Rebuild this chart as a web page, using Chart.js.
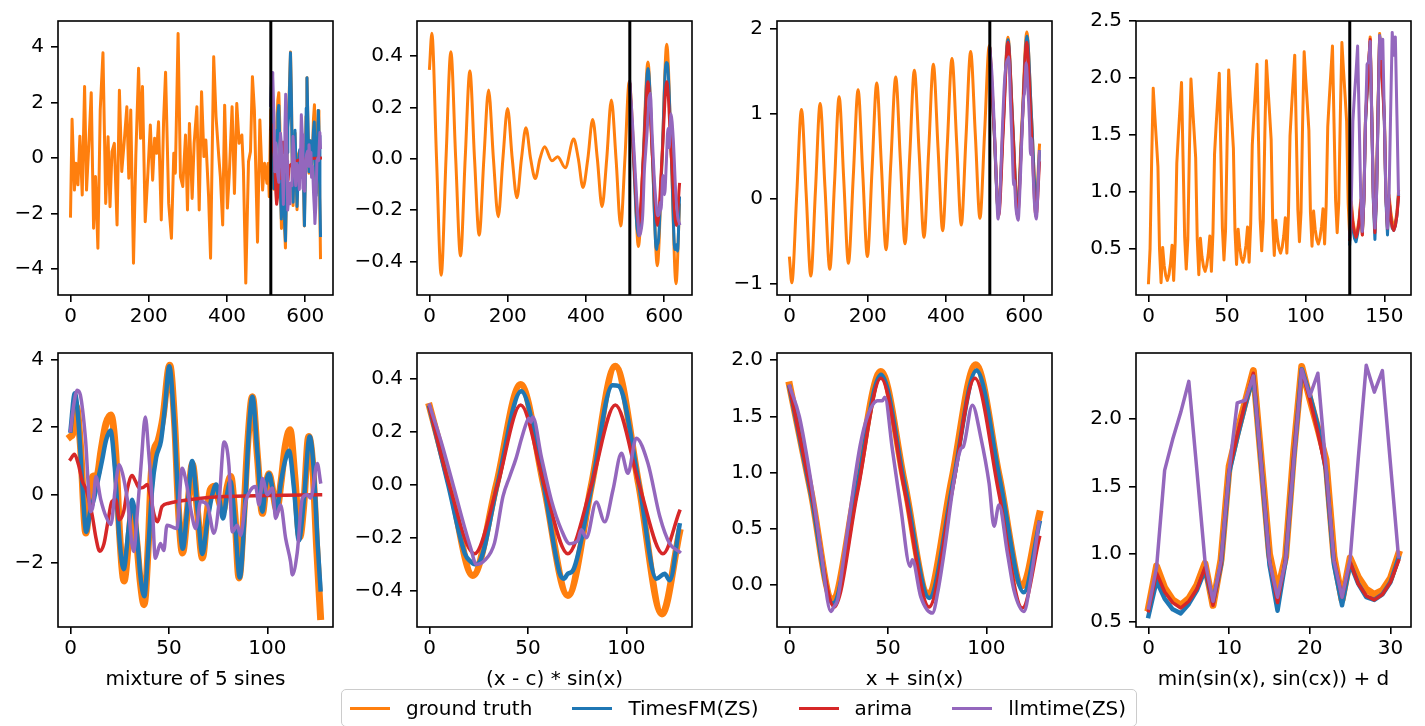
<!DOCTYPE html>
<html>
<head>
<meta charset="utf-8">
<script src="https://cdn.jsdelivr.net/npm/chart.js@4.4.1/dist/chart.umd.min.js"></script>
<style>
  body { margin: 0; background: #fff; width: 1425px; height: 726px; overflow: hidden; position: relative; font-family: 'DejaVu Sans', sans-serif; }
  canvas { position: absolute; }
  #legend { position: absolute; left: 341px; top: 689px; width: 796px; height: 38px; box-sizing: border-box;
    border: 1.6px solid #cccccc; border-radius: 5px; background: rgba(255,255,255,0.8);
    display: flex; align-items: center; padding-left: 8px; font: 20px 'DejaVu Sans', sans-serif; color: #000;
    white-space: nowrap; z-index: 5; }
  .item { display: flex; align-items: center; margin-right: 40px; }
  .item:last-child { margin-right: 0; }
  .swatch { width: 40px; height: 3px; margin-right: 16px; }
</style>
</head>
<body>
<div id="legend"></div>
<script>
// ---------- mixture of 5 sines ----------
const mixHist = [[0,-2.1],[4,1.4],[10,-1.16],[14,-0.19],[19,-0.97],[24,0.79],[30,-1.34],[36,2.58],[41,-1.16],[47,0.53],[53,2.36],[59,-2.54],[64,-0.67],[70,-3.26],[76,1.73],[83,3.8],[90,-1.64],[96,0.77],[101,-1.76],[106,0.23],[112,0.53],[119,-2.42],[125,2.45],[131,-0.49],[137,0.53],[144,1.85],[149,-0.73],[154,1.73],[161,-3.8],[167,0.1],[174,3.24],[179,0.71],[184,2.58],[191,-2.3],[198,-0.49],[204,1.19],[210,-0.8],[215,0.71],[220,0.17],[225,1.31],[232,-2.24],[238,1.37],[243,3.1],[251,-1.64],[258,-2.9],[264,0.17],[268,-0.55],[275,4.5],[281,-0.67],[287,-1.03],[294,0.83],[299,-1.88],[304,1.25],[311,-1.46],[316,0.53],[323,1.85],[329,-1.88],[335,2.39],[341,0.05],[346,0.65],[353,-1.4],[358,-3.62],[366,3.66],[372,1.49],[379,0.05],[383,-0.67],[389,-2.42],[394,1.91],[401,-1.81],[406,-0.55],[413,1.85],[419,-1.28],[425,1.97],[431,0.53],[438,0.83],[442,-0.43],[448,-4.52],[455,-0.13],[460,0.23],[465,2.94],[470,1.73],[478,-3.04],[484,1.37],[491,-1.16],[496,-0.19],[502,-0.91],[505,-0.2],[508,-1.4]];
const mixTruth = [[0,1.72],[1,1.78],[3,2.6],[5,1.5],[7.8,-1.13],[9.5,-0.3],[11.2,0.54],[13.5,0.58],[15.5,1.3],[18,2.1],[20.5,2.36],[23,1.2],[25,-1.2],[27.2,-2.55],[29.5,-1.4],[31.5,-0.35],[33.5,-1.3],[35.5,-2.6],[37.4,-3.25],[39.5,-1.5],[41,0.6],[42.5,1.33],[44.5,1.6],[47,2.3],[50.4,3.83],[53,2.0],[55,-0.6],[56.9,-1.72],[59.5,-0.4],[61.9,0.9],[64.5,-0.5],[67,-1.87],[69.5,-0.5],[71,0.15],[73.5,0.25],[75.5,-0.2],[77.5,-0.5],[79.5,0.2],[81.4,0.54],[83.5,-0.6],[85.6,-2.46],[88,-0.6],[90,1.5],[92.4,2.9],[95,1.1],[97.5,-0.55],[99.2,0.2],[100.8,0.62],[102.8,0.1],[104.8,-0.45],[107,0.4],[109,1.4],[111.5,1.92],[114,0.5],[116.5,-1.25],[118.5,-0.3],[121,1.72],[123,0.9],[125,-1.5],[127,-3.6]];
const mixTimesfm = [[0,1.9],[2.2,3.0],[4,2.2],[6,0.3],[8,-1.1],[10,-0.5],[12,-0.1],[13.5,0.3],[16,1.0],[18,1.6],[20.3,1.9],[22.5,0.8],[25,-1.4],[27,-2.2],[29.5,-1.0],[31.3,-0.15],[33.5,-1.0],[35.5,-2.4],[37.5,-3.0],[39.5,-1.6],[41.5,0.2],[43.5,1.1],[46,1.6],[48,2.6],[50.2,3.8],[52.5,2.3],[55,-0.4],[57,-1.6],[59.5,-0.3],[61.8,1.0],[64.5,-0.4],[67,-1.75],[69.5,-0.8],[72,0.0],[74,0.3],[75.5,-0.1],[77.5,-0.7],[79.5,0.0],[81.2,0.4],[83.5,-0.8],[86,-2.45],[88.5,-0.5],[90.5,1.8],[92.4,2.9],[95,1.2],[97.5,-0.5],[99,0.2],[100.8,0.62],[102.8,0.1],[104.5,-0.5],[107,0.4],[109,1.0],[111,1.3],[113.5,0.2],[116,-1.35],[118.5,-0.2],[121.5,1.72],[123.5,0.8],[125.5,-1.4],[127,-2.8]];
const mixArima = [[0,1.05],[2,1.2],[4,0.9],[6,0.4],[8,0.15],[11,-0.6],[13,-1.3],[14.8,-1.67],[17,-1.45],[19,-0.8],[21,-0.2],[23,-0.15],[24.8,-0.74],[27,-0.5],[29,0.2],[31.3,0.57],[33,0.4],[35,0.2],[37,0.22],[39,0.3],[40.5,0.0],[42.5,-0.6],[44.2,-0.8],[46.5,-0.35],[50,-0.25],[60,-0.15],[70,-0.08],[80,-0.05],[100,-0.02],[127,0.0]];
const mixLlmtime = [[0,1.9],[1.5,2.6],[3.4,3.09],[5,2.95],[7.6,1.66],[10.2,-0.5],[11.5,-0.3],[12.9,0.54],[15.4,-0.15],[18,-0.64],[20.5,-0.88],[23,0.34],[24.7,0.89],[26.4,0.64],[28.9,-0.15],[32.1,-1.68],[34,-0.5],[36,1.0],[38,2.3],[39.7,1.27],[41.4,-0.1],[43.1,-1.88],[45.7,-1.44],[47.4,-1.65],[49,-0.9],[51.6,-0.95],[54,-1.0],[56.7,0.78],[59,0.3],[61.3,-0.5],[63.6,-1.0],[66.1,-0.2],[69.5,-0.3],[72.9,-1.14],[75.5,-0.2],[78,1.56],[80.5,0.85],[82.2,-1.1],[84.7,-0.9],[86.4,-1.2],[89,-0.2],[91.5,0.14],[94,0.24],[95.8,-0.3],[97.5,0.48],[100,0.0],[102.6,0.2],[104.2,-0.7],[106.7,-0.3],[109.3,-1.29],[111.8,-1.98],[112.7,-2.37],[115.2,-1.7],[117.8,-0.1],[120.3,0.0],[122,-0.1],[125.4,0.92],[127,0.38]];

// ---------- (x - c) * sin(x) ----------
const xsinHist = [[0,0.352],[6,0.489],[18,0],[29.9,-0.454],[42.2,0],[54.6,0.417],[67,0],[79.3,-0.379],[91.2,0],[103.2,0.342],[115.1,0],[127,-0.298],[139,0],[151,0.268],[163.4,0],[175.7,-0.226],[187.6,0],[199.6,0.196],[211.5,0],[223.5,-0.152],[235,0],[246.5,0.121],[258.5,0],[270.4,-0.077],[282.3,0],[294.2,0.047],[313,-0.008],[327.5,0.008],[347,-0.035],[368.4,0.077],[380.4,0],[392.3,-0.112],[404.7,0],[417,0.153],[429,0],[441,-0.187],[453,0],[464.8,0.229],[476.8,0],[488.7,-0.262],[499.5,0],[510.5,0.30]];
const xsinTruth = [[0,0.295],[10.5,0],[22,-0.342],[34,0],[46.3,0.377],[58,0],[70.3,-0.417],[82.3,0],[94.4,0.446],[106.3,0],[118.1,-0.487],[127,-0.18]];
const xsinTimesfm = [[0,0.29],[9.5,0],[18,-0.26],[21,-0.29],[23,-0.30],[25,-0.295],[34.5,0],[46.6,0.352],[58,0],[66,-0.33],[68.3,-0.354],[70.3,-0.335],[72.9,-0.323],[82.5,0],[93,0.375],[96,0.372],[106.5,0],[115.3,-0.354],[119.5,-0.335],[122,-0.36],[127,-0.153]];
const xsinArima = [[0,0.29],[10,0],[22.9,-0.26],[34.6,0],[46.3,0.30],[58.3,0],[70.3,-0.26],[82.3,0],[94.4,0.30],[106.5,0],[118.6,-0.26],[127,-0.10]];
const xsinLlmtime = [[0,0.30],[6,0.16],[12.7,-0.02],[17.8,-0.16],[21,-0.24],[23.7,-0.30],[28,-0.285],[33,-0.22],[37.3,-0.045],[40.7,0.03],[44,0.10],[46.6,0.17],[49.2,0.232],[50.5,0.25],[51.5,0.235],[52.5,0.255],[56.8,0.106],[61.9,-0.058],[67,-0.17],[71.2,-0.222],[75.4,-0.21],[77.1,-0.17],[79.7,-0.20],[84.7,-0.065],[89,-0.14],[93.2,-0.02],[97.5,0.118],[100.8,0.043],[105,0.175],[111,0.08],[117,-0.12],[122,-0.222],[127,-0.253]];

// ---------- x + sin(x) ----------
const trendHist = [[0,-0.70],[6,-0.99],[18.3,0.03],[30.6,1.05],[42.5,0.07],[54.5,-0.91],[66.4,0.10],[78.3,1.12],[90.6,0.14],[103,-0.83],[115,0.18],[126.8,1.20],[138.7,0.22],[150.6,-0.76],[163,0.26],[175.3,1.28],[187.2,0.30],[199.1,-0.68],[211,0.34],[223,1.36],[235,0.38],[246.8,-0.60],[259,0.42],[271.5,1.43],[283.4,0.45],[295.3,-0.53],[307.2,0.49],[319.1,1.51],[331.5,0.53],[343.8,-0.455],[355.7,0.56],[367.7,1.58],[379.6,0.60],[391.5,-0.376],[403.4,0.64],[415.3,1.65],[427.2,0.67],[439.1,-0.31],[451,0.71],[463,1.73],[475,0.75],[486.8,-0.23],[498.7,0.78],[510.6,1.80]];
const trendTruth = [[0,1.78],[11,0.82],[21.8,-0.13],[34,0.88],[46.4,1.90],[58.4,0.91],[70.4,-0.08],[82.5,0.94],[94.6,1.96],[106.5,0.97],[118.3,-0.01],[127,0.63]];
const trendTimesfm = [[0,1.76],[11,0.80],[22,-0.17],[34.3,0.86],[46.5,1.87],[58.7,0.87],[71,-0.12],[83,0.90],[95,1.91],[107,0.92],[119,-0.07],[127,0.55]];
const trendArima = [[0,1.76],[11.5,0.78],[22.7,-0.20],[34.5,0.82],[46.4,1.84],[58.7,0.82],[70.9,-0.20],[82.5,0.82],[94.2,1.84],[106.3,0.82],[118.3,-0.21],[127,0.42]];
const trendLlmtime = [[0,1.77],[5,1.5],[10.8,0.93],[16,0.3],[21,-0.24],[22.5,-0.2],[24.4,-0.14],[28,0.3],[32.8,0.9],[36,1.25],[39.6,1.5],[44.7,1.64],[47.2,1.64],[48.4,1.67],[52.3,1.2],[56.5,0.69],[61.3,0.16],[62.4,0.22],[66.7,-0.11],[72.6,-0.255],[75.5,-0.05],[78.5,0.28],[83.6,0.93],[87,1.21],[88.3,1.23],[92.9,1.6],[97.1,1.32],[101.4,0.9],[103.9,0.52],[106.4,0.71],[110.7,0.28],[114,-0.05],[119.1,-0.24],[122.5,0.04],[126.7,0.55]];

// ---------- min(sin(x), sin(cx)) + d  (one value per step) ----------
const minHist = [
  0.20, 0.50, 1.27, 1.91, 1.67, 1.45, 1.22, 0.50,
  0.20, 0.51, 0.35, 0.26, 0.22, 0.27, 0.37, 0.53,
  0.22, 0.56, 1.25, 1.50, 1.73, 1.96, 1.28, 0.60,
  0.32, 0.58, 1.35, 1.99, 1.75, 1.53, 1.30, 0.58,
  0.27, 0.59, 0.43, 0.34, 0.30, 0.35, 0.45, 0.61,
  0.30, 0.64, 1.33, 1.58, 1.81, 2.04, 1.36, 0.68,
  0.40, 0.66, 1.43, 2.07, 1.83, 1.61, 1.38, 0.66,
  0.36, 0.67, 0.51, 0.42, 0.38, 0.43, 0.53, 0.69,
  0.38, 0.72, 1.41, 1.66, 1.89, 2.12, 1.44, 0.76,
  0.48, 0.74, 1.51, 2.15, 1.91, 1.69, 1.46, 0.74,
  0.44, 0.75, 0.59, 0.50, 0.46, 0.51, 0.61, 0.77,
  0.46, 0.80, 1.49, 1.74, 1.97, 2.20, 1.52, 0.84,
  0.56, 0.82, 1.59, 2.23, 1.99, 1.77, 1.54, 0.82,
  0.52, 0.83, 0.67, 0.58, 0.54, 0.59, 0.69, 0.85,
  0.54, 0.88, 1.57, 1.82, 2.05, 2.28, 1.60, 0.92,
  0.64, 0.90, 1.67, 2.31, 2.07, 1.85, 1.62, 0.90
];
const minTruth = [0.60,0.91,0.75,0.66,0.62,0.67,0.77,0.93,0.62,0.96,1.65,1.90,2.13,2.36,1.68,1.00,0.72,0.98,1.75,2.39,2.15,1.93,1.70,0.98,0.66,0.97,0.83,0.74,0.70,0.73,0.82,1.00];
const minTimesfm = [0.54,0.80,0.67,0.59,0.56,0.63,0.73,0.88,0.64,0.92,1.60,1.86,2.10,2.32,1.65,0.92,0.58,0.95,1.70,2.37,2.18,1.95,1.62,0.92,0.62,0.93,0.78,0.68,0.66,0.70,0.79,0.97];
const minArima = [0.58,0.86,0.72,0.64,0.60,0.65,0.74,0.90,0.62,0.93,1.62,1.88,2.12,2.34,1.66,0.95,0.64,0.96,1.72,2.36,2.15,1.90,1.62,0.96,0.68,0.94,0.78,0.69,0.66,0.70,0.79,0.95];
const minLlmtime = [0.60,0.90,1.62,1.85,2.05,2.28,1.62,0.95,0.65,0.95,1.62,2.12,2.14,2.32,1.65,0.95,0.68,0.95,1.68,2.37,2.17,2.34,1.65,0.95,0.68,0.96,1.70,2.40,2.20,2.36,1.67,0.98];

// split between history and forecast window
const splitLong = 512;
const splitShort = 128;

// ticks
const xTicksLong = [0, 200, 400, 600];
const xTicksMinHist = [0, 50, 100, 150];
const xTicksWindow = [0, 50, 100];
const xTicksMinWindow = [0, 10, 20, 30];
const yTicksMix = [-4, -2, 0, 2, 4];
const yTicksXsin = [-0.4, -0.2, 0, 0.2, 0.4];
const yTicksTrend = [-1, 0, 1, 2];
const yTicksMinHist = [0.5, 1, 1.5, 2, 2.5];
const yTicksMixWin = [-2, 0, 2, 4];
const yTicksTrendWin = [0, 0.5, 1, 1.5, 2];
const yTicksMinWin = [0.5, 1, 1.5, 2];

const panelTitles = ['mixture of 5 sines', '(x - c) * sin(x)', 'x + sin(x)', 'min(sin(x), sin(cx)) + d'];
const seriesLabels = ['ground truth', 'TimesFM(ZS)', 'arima', 'llmtime(ZS)'];
const seriesColors = ['#ff7f0e', '#1f77b4', '#d62728', '#9467bd'];

// ---------- helpers ----------
const pts = (pairs, shift = 0) => pairs.map(([x, y]) => ({ x: x + shift, y }));
const idx = (vals, shift = 0) => vals.map((y, i) => ({ x: i + shift, y }));

const colLeft = [58, 417, 777, 1136];
const rowTop = [21, 353];
const PLOT_W = 275, PLOT_H = 274, AXW = 75, PADT = 25, PADR = 25;

const panels = [
  { col: 0, row: 0, xr: [-31.95, 670.95], yr: [-4.95, 4.95], xt: xTicksLong, yt: yTicksMix, dec: 0, smooth: false, split: splitLong,
    data: [pts(mixHist).concat(pts(mixTruth, splitLong)), pts(mixTimesfm, splitLong), pts(mixArima, splitLong), pts(mixLlmtime, splitLong)] },
  { col: 1, row: 0, xr: [-31.95, 670.95], yr: [-0.531, 0.537], xt: xTicksLong, yt: yTicksXsin, dec: 1, smooth: true, split: splitLong,
    data: [pts(xsinHist).concat(pts(xsinTruth, splitLong)), pts(xsinTimesfm, splitLong), pts(xsinArima, splitLong), pts(xsinLlmtime, splitLong)] },
  { col: 2, row: 0, xr: [-31.95, 670.95], yr: [-1.133, 2.09], xt: xTicksLong, yt: yTicksTrend, dec: 0, smooth: true, split: splitLong,
    data: [pts(trendHist).concat(pts(trendTruth, splitLong)), pts(trendTimesfm, splitLong), pts(trendArima, splitLong), pts(trendLlmtime, splitLong)] },
  { col: 3, row: 0, xr: [-7.95, 166.95], yr: [0.092, 2.5], xt: xTicksMinHist, yt: yTicksMinHist, dec: 1, smooth: false, split: splitShort,
    data: [idx(minHist).concat(idx(minTruth, splitShort)), idx(minTimesfm, splitShort), idx(minArima, splitShort), idx(minLlmtime, splitShort)] },
  { col: 0, row: 1, xr: [-6.35, 133.35], yr: [-3.91, 4.19], xt: xTicksWindow, yt: yTicksMixWin, dec: 0, smooth: true,
    data: [pts(mixTruth), pts(mixTimesfm), pts(mixArima), pts(mixLlmtime)] },
  { col: 1, row: 1, xr: [-6.35, 133.35], yr: [-0.536, 0.496], xt: xTicksWindow, yt: yTicksXsin, dec: 1, smooth: true,
    data: [pts(xsinTruth), pts(xsinTimesfm), pts(xsinArima), pts(xsinLlmtime)] },
  { col: 2, row: 1, xr: [-6.35, 133.35], yr: [-0.379, 2.065], xt: xTicksWindow, yt: yTicksTrendWin, dec: 1, smooth: true,
    data: [pts(trendTruth), pts(trendTimesfm), pts(trendArima), pts(trendLlmtime)] },
  { col: 3, row: 1, xr: [-1.55, 32.55], yr: [0.459, 2.49], xt: xTicksMinWindow, yt: yTicksMinWin, dec: 1, smooth: false,
    data: [idx(minTruth), idx(minTimesfm), idx(minArima), idx(minLlmtime)] }
];

// frame on all four sides + the black split line
const framePlugin = {
  id: 'frame',
  afterDatasetsDraw(chart, args, opts) {
    const { ctx, chartArea: a, scales } = chart;
    ctx.save();
    if (opts.split != null) {
      const px = scales.x.getPixelForValue(opts.split);
      ctx.strokeStyle = '#000';
      ctx.lineWidth = 3;
      ctx.beginPath();
      ctx.moveTo(px, a.top);
      ctx.lineTo(px, a.bottom);
      ctx.stroke();
    }
    ctx.strokeStyle = '#000';
    ctx.lineWidth = 1.6;
    ctx.strokeRect(a.left, a.top, a.right - a.left, a.bottom - a.top);
    ctx.restore();
  }
};

Chart.defaults.font.family = "'DejaVu Sans', sans-serif";
Chart.defaults.font.size = 20;
Chart.defaults.color = '#000';

const fmtTick = dec => v => Number(v).toFixed(dec).replace('-', '\u2212');

const axisGrid = { display: true, drawOnChartArea: false, drawTicks: true, tickLength: 7, color: '#000', lineWidth: 1.6 };

panels.forEach(p => {
  const xh = p.row === 0 ? 40 : 80;
  const W = AXW + PLOT_W + PADR, H = PADT + PLOT_H + xh;
  const cv = document.createElement('canvas');
  cv.width = W; cv.height = H;
  cv.style.left = (colLeft[p.col] - AXW) + 'px';
  cv.style.top = (rowTop[p.row] - PADT) + 'px';
  cv.style.width = W + 'px';
  cv.style.height = H + 'px';
  document.body.appendChild(cv);

  // bottom row: thick ground truth under the forecasts
  const lw = p.row === 0 ? [3, 3, 3, 3] : [7, 4.5, 3.5, 3.5];

  new Chart(cv, {
    type: 'line',
    data: {
      datasets: p.data.map((d, k) => ({
        label: seriesLabels[k],
        data: d,
        borderColor: seriesColors[k],
        borderWidth: lw[k],
        order: 3 - k,
        pointRadius: 0,
        fill: false,
        tension: 0,
        cubicInterpolationMode: p.smooth ? 'monotone' : 'default',
        borderCapStyle: 'square',
        borderJoinStyle: 'round'
      }))
    },
    options: {
      responsive: false,
      animation: false,
      events: [],
      layout: { padding: { top: PADT, right: PADR, left: 0, bottom: 0 } },
      plugins: { legend: { display: false }, tooltip: { enabled: false }, frame: { split: p.split } },
      scales: {
        x: {
          type: 'linear', min: p.xr[0], max: p.xr[1],
          afterBuildTicks: s => { s.ticks = p.xt.map(v => ({ value: v })); },
          afterFit: s => { s.height = xh; },
          grid: axisGrid,
          border: { display: false },
          ticks: { padding: 3, maxRotation: 0, autoSkip: false, color: '#000', callback: fmtTick(0) },
          title: { display: p.row === 1, text: panelTitles[p.col], color: '#000', font: { size: 20 }, padding: { top: 0, bottom: 15 } }
        },
        y: {
          type: 'linear', min: p.yr[0], max: p.yr[1],
          afterBuildTicks: s => { s.ticks = p.yt.map(v => ({ value: v })); },
          afterFit: s => { s.width = AXW; },
          grid: axisGrid,
          border: { display: false },
          ticks: { padding: 7, autoSkip: false, color: '#000', callback: fmtTick(p.dec) }
        }
      }
    },
    plugins: [framePlugin]
  });
});

// legend
const leg = document.getElementById('legend');
seriesLabels.forEach((name, k) => {
  const it = document.createElement('div');
  it.className = 'item';
  it.innerHTML = `<span class="swatch" style="background:${seriesColors[k]}"></span><span>${name}</span>`;
  leg.appendChild(it);
});
</script>
</body>
</html>
